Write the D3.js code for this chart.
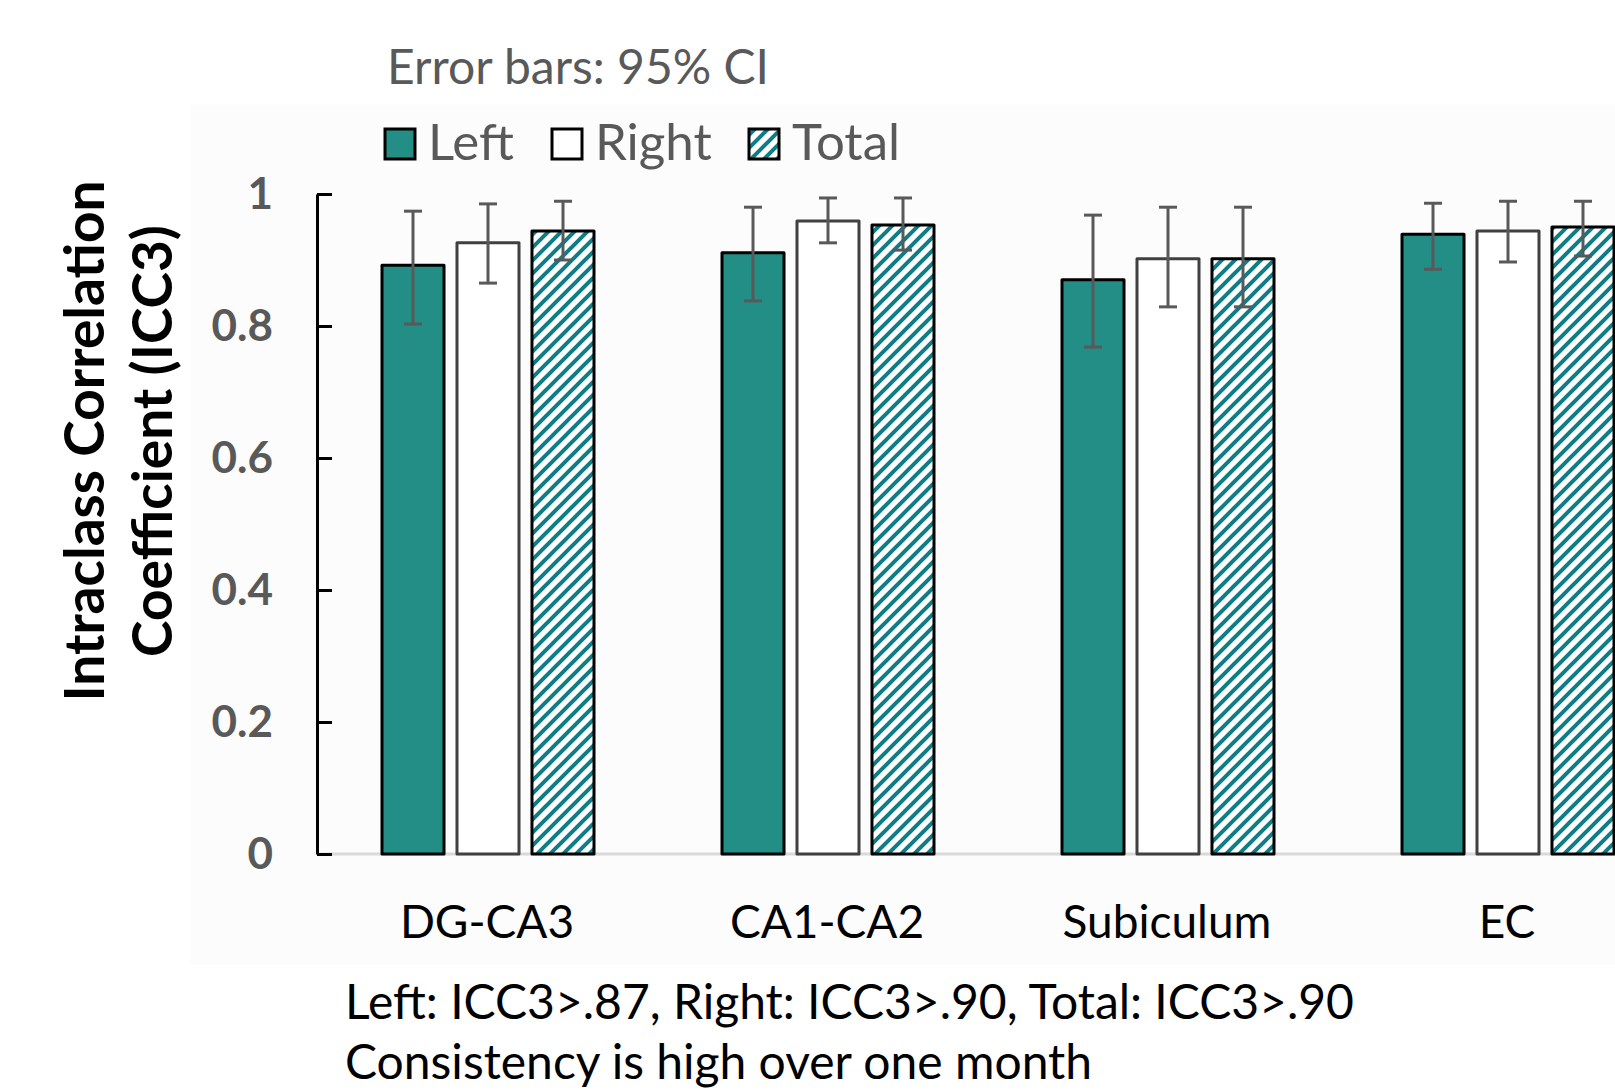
<!DOCTYPE html>
<html>
<head>
<meta charset="utf-8">
<script src="https://cdn.jsdelivr.net/npm/d3@7"></script>
<style>
  body { margin: 0; background: #fff; }
  svg { display: block; }
  text { font-family: Lato, "Open Sans", sans-serif; }
</style>
</head>
<body>
<svg id="chart" width="1615" height="1091"></svg>
<script>
// values
var categories = ["DG-CA3", "CA1-CA2", "Subiculum", "EC"];
var series = ["Left", "Right", "Total"];

var leftVals = [0.892, 0.911, 0.870, 0.939];
var leftLo = [0.803, 0.838, 0.768, 0.886];
var leftHi = [0.974, 0.980, 0.968, 0.986];

var rightVals = [0.926, 0.959, 0.902, 0.944];
var rightLo = [0.865, 0.926, 0.829, 0.897];
var rightHi = [0.985, 0.994, 0.980, 0.989];

var totalVals = [0.944, 0.953, 0.902, 0.950];
var totalLo = [0.900, 0.915, 0.829, 0.906];
var totalHi = [0.989, 0.994, 0.980, 0.989];

var yTicks = [0, 0.2, 0.4, 0.6, 0.8, 1];

var noteLines = ["Left: ICC3>.87, Right: ICC3>.90, Total: ICC3>.90",
                 "Consistency is high over one month"];

function main() {
    var svg = d3.select("#chart");
    var teal = "#238e86";
    var hatch = "#0f7d86";

    // build rows for drawing
    var vals = { Left: leftVals, Right: rightVals, Total: totalVals };
    var los = { Left: leftLo, Right: rightLo, Total: totalLo };
    var his = { Left: leftHi, Right: rightHi, Total: totalHi };
    var rows = [];
    categories.forEach(function(c, i) {
        series.forEach(function(s) {
            rows.push({ cat: c, s: s, v: vals[s][i], lo: los[s][i], hi: his[s][i] });
        });
    });

    //hatch pattern for Total
    var defs = svg.append("defs");
    var pat = defs.append("pattern")
        .attr("id", "diag")
        .attr("patternUnits", "userSpaceOnUse")
        .attr("width", 13).attr("height", 13);
    pat.append("rect").attr("width", 13).attr("height", 13).attr("fill", "#fff");
    pat.append("path")
        .attr("d", "M-3,3 L3,-3 M0,13 L13,0 M10,16 L16,10")
        .attr("stroke", hatch).attr("stroke-width", 4);

    // faint plot-area background
    svg.append("rect")
        .attr("x", 190).attr("y", 105)
        .attr("width", 1425).attr("height", 860)
        .attr("fill", "#fcfcfc");

    var y = d3.scaleLinear().domain([0, 1]).range([854, 194]);
    var x0 = d3.scaleBand().domain(categories).range([317, 1677]).padding(0);
    var x1 = d3.scaleBand().domain(series).range([65, 277]).paddingInner(0.173).paddingOuter(0);

    // grey baseline
    svg.append("line")
        .attr("x1", 317).attr("x2", 1615)
        .attr("y1", y(0)).attr("y2", y(0))
        .attr("stroke", "#d9d9d9").attr("stroke-width", 3);

    var fills = { Left: teal, Right: "#fff", Total: "url(#diag)" };
    var strokes = { Left: "#000", Right: "#404040", Total: "#000" };

    svg.append("g").selectAll("rect")
        .data(rows)
        .enter().append("rect")
        .attr("x", function(d) { return x0(d.cat) + x1(d.s); })
        .attr("y", function(d) { return y(d.v); })
        .attr("width", x1.bandwidth())
        .attr("height", function(d) { return y(0) - y(d.v); })
        .attr("fill", function(d) { return fills[d.s]; })
        .attr("stroke", function(d) { return strokes[d.s]; })
        .attr("stroke-width", 3)
        .attr("stroke-linejoin", "round");

    // error bars
    var eb = svg.append("g").attr("stroke", "#595959").attr("stroke-width", 3);
    rows.forEach(function(d) {
        var cx = x0(d.cat) + x1(d.s) + x1.bandwidth() / 2;
        eb.append("line").attr("x1", cx).attr("x2", cx).attr("y1", y(d.lo)).attr("y2", y(d.hi));
        eb.append("line").attr("x1", cx - 9).attr("x2", cx + 9).attr("y1", y(d.lo)).attr("y2", y(d.lo));
        eb.append("line").attr("x1", cx - 9).attr("x2", cx + 9).attr("y1", y(d.hi)).attr("y2", y(d.hi));
    });

    // y axis
    var yAxis = d3.axisLeft(y)
        .tickValues(yTicks)
        .tickFormat(function(d) { return String(d); })
        .tickSizeInner(-15)
        .tickSizeOuter(0)
        .tickPadding(44);
    var ga = svg.append("g").attr("transform", "translate(317,0)").call(yAxis);
    ga.select(".domain").attr("stroke", "#000").attr("stroke-width", 3);
    ga.selectAll(".tick line").attr("stroke", "#000").attr("stroke-width", 3);
    ga.selectAll(".tick text")
        .attr("fill", "#595959")
        .style("font-size", "44px")
        .style("font-weight", "bold")
        .style("font-family", "Lato");

    // category labels
    var xAxis = d3.axisBottom(x0).tickSize(0).tickPadding(0);
    var gx = svg.append("g").attr("transform", "translate(0,905)").call(xAxis);
    gx.select(".domain").remove();
    gx.selectAll(".tick text")
        .attr("fill", "#000")
        .attr("dy", "0.71em")
        .style("font-size", "46px")
        .style("font-family", "Lato");

    // y title
    var yt = svg.append("text")
        .attr("transform", "translate(0,441) rotate(-90)")
        .attr("text-anchor", "middle")
        .style("font-size", "55px")
        .style("font-weight", "bold")
        .attr("fill", "#000");
    yt.append("tspan").attr("x", 0).attr("y", 104).text("Intraclass Correlation");
    yt.append("tspan").attr("x", 0).attr("y", 172).text("Coefficient (ICC3)");

    // top note
    svg.append("text")
        .attr("x", 387).attr("y", 84)
        .attr("fill", "#595959")
        .style("font-size", "48px")
        .text("Error bars: 95% CI");

    // legend
    var legX = [385, 552, 749];
    var lg = svg.append("g");
    series.forEach(function(s, i) {
        lg.append("rect")
            .attr("x", legX[i]).attr("y", 129)
            .attr("width", 30).attr("height", 30)
            .attr("fill", fills[s])
            .attr("stroke", "#000").attr("stroke-width", 3);
        lg.append("text")
            .attr("x", legX[i] + 43).attr("y", 160)
            .attr("fill", "#595959")
            .style("font-size", "51px")
            .text(s);
    });

    // bottom notes
    svg.append("g").selectAll("text")
        .data(noteLines)
        .enter().append("text")
        .attr("x", 345)
        .attr("y", function(d, i) { return 1019 + i * 60; })
        .attr("fill", "#000")
        .style("font-size", "48px")
        .text(function(d) { return d; });
}

main();
</script>
</body>
</html>
